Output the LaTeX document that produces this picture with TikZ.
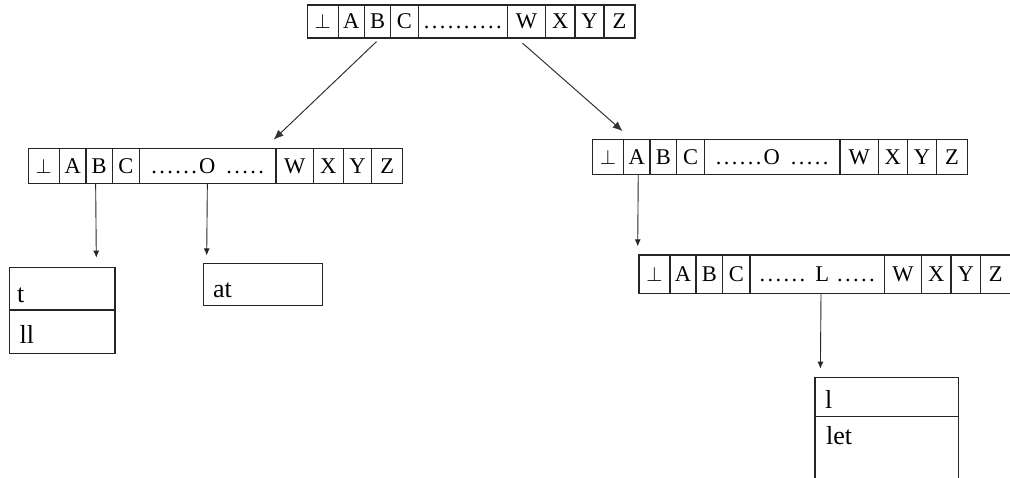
\documentclass[tikz,border=0pt]{standalone}
\usepackage{fontspec}
\setmainfont{Liberation Serif}
\usetikzlibrary{arrows.meta}
\newcommand\sd{\kern2.4pt}
\newcommand\arrayrow[4]{%
  \foreach \xl/\xr/\t [count=\i] in {#4}{%
    \node[cellbox, minimum width={(\xr-\xl)*1pt}, minimum height={(#3-#2)*1pt}]
      (#1-\i) at ({(\xl+\xr)/2},{(#2+#3)/2}) {\vphantom{A}\t};
  }%
}
\newcommand\rectnode[5]{%
  \node[boxcell, minimum width={(#4-#2)*1pt}, minimum height={(#5-#3)*1pt}]
    (#1) at ({(#2+#4)/2},{(#3+#5)/2}) {};%
}
\begin{document}
\begin{tikzpicture}[x=1pt,y=-1pt,
  cellbox/.style={draw=black!85, line width=1.2pt, inner sep=0pt, font=\fontsize{22.5}{24}\selectfont},
  boxcell/.style={draw=black!85, line width=1.2pt, inner sep=0pt},
  boxtext/.style={inner sep=0pt, anchor=base west, font=\fontsize{26}{28}\selectfont},
  arr/.style={draw=black!80, line width=1pt, -{Latex[length=10pt,width=8pt]}},
  varr/.style={draw=black!85, line width=0.9pt, -{Latex[length=7pt,width=6pt]}}]
\path[clip] (0,0) rectangle (1010,477);
\fill[white] (0,0) rectangle (1010,477);

% top array
\arrayrow{T}{5}{38}{307.3/338.3/$\perp$, 338.3/364.3/A, 364.3/390.7/B, 390.7/418.3/C,
  418.3/507.3/{.\sd.\sd.\sd.\sd.\sd.\sd.\sd.\sd.\sd.}, 507.3/545.7/W, 545.7/575/X, 575/604/Y, 604/635/Z}

% left middle array
\arrayrow{L}{148.3}{183.3}{28.3/59.3/$\perp$, 59.3/86/A, 86/112.3/B, 112.3/139.3/C,
  139.3/276/{.\sd.\sd.\sd.\sd.\sd.\hspace{2pt}O\hspace{11pt}.\sd.\sd.\sd.\sd.}, 276/313.3/W, 313.3/343.3/X, 343.3/371.7/Y, 371.7/402.7/Z}

% right middle array
\arrayrow{R}{139.3}{174.3}{592.7/623.3/$\perp$, 623.3/650/A, 650/676.7/B, 676.7/704.3/C,
  704.3/840/{.\sd.\sd.\sd.\sd.\sd.\hspace{2pt}O\hspace{11pt}.\sd.\sd.\sd.\sd.}, 840/878.3/W, 878.3/907.3/X, 907.3/936.7/Y, 936.7/967.3/Z}

% lower right array
\arrayrow{D}{255}{293.3}{639/670/$\perp$, 670/696/A, 696/722.7/B, 722.7/750/C,
  750/884.3/{.\sd.\sd.\sd.\sd.\sd.\hspace{10pt}L\hspace{8pt}.\sd.\sd.\sd.\sd.}, 884.3/921.7/W, 921.7/951/X, 951/980.7/Y, 980.7/1011/Z}

% leaf boxes
\rectnode{tb1}{9.3}{267.3}{115}{310}
\rectnode{tb2}{9.3}{310}{115}{353.3}
\node[boxtext] (tt) at (17,302.7) {t};
\node[boxtext] (tll) at (19.5,343.3) {ll};

\rectnode{ab}{203.3}{263.3}{322.7}{305.7}
\node[boxtext] (tat) at (213,297) {at};

\rectnode{lb1}{815}{377.3}{958.3}{416.7}
\rectnode{lb2}{815}{416.7}{958.3}{490}
\node[boxtext] (tl) at (825,408.3) {l};
\node[boxtext] (tlet) at (826,444) {let};

% connectors
\draw[arr] ([xshift=-1pt,yshift=-3pt]T-3.south) -- ([xshift=-3pt,yshift=8pt]L-5.north east);
\draw[arr] ([xshift=-4pt,yshift=-4.5pt]T-6.south) -- ([yshift=7.5pt]R-2.north west);
\draw[varr] ([xshift=-3.5pt]L-3.south) -- ([xshift=-19.3pt,yshift=9pt]tb1.north east);
\draw[varr] ([xshift=-0.3pt]L-5.south) -- ([xshift=4pt,yshift=7.3pt]ab.north west);
\draw[varr] ([xshift=1.6pt]R-2.south) -- ([xshift=-0.7pt,yshift=8pt]D-1.north west);
\draw[varr] ([xshift=3.85pt]D-5.south) -- ([xshift=6pt,yshift=8pt]lb1.north west);
\end{tikzpicture}
\end{document}
